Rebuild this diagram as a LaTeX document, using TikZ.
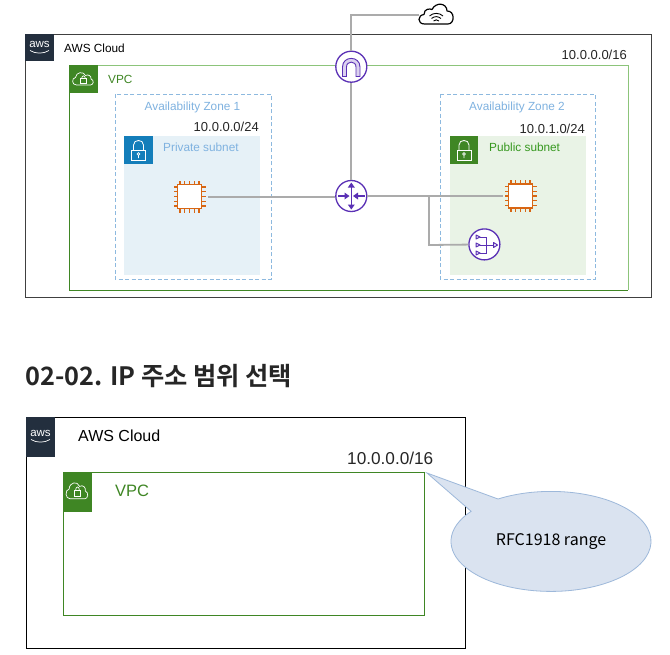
\documentclass[tikz,border=0pt]{standalone}
\usepackage{fontspec}
\setmainfont{Liberation Sans}
\newfontfamily\krfont[BoldFont=Noto Sans CJK KR Bold]{Noto Sans CJK KR}
\definecolor{awsdark}{HTML}{232F3E}
\definecolor{vpcgreen}{HTML}{3F8624}
\definecolor{vpclight}{HTML}{8CC47A}
\definecolor{azblue}{HTML}{8DB9DF}
\definecolor{aztext}{HTML}{7FB2E0}
\definecolor{privhead}{HTML}{147EBA}
\definecolor{privfill}{HTML}{E6F1F7}
\definecolor{pubfill}{HTML}{E9F3E6}
\definecolor{netpurple}{HTML}{5A30B5}
\definecolor{chiporange}{HTML}{D86613}
\definecolor{wiregray}{HTML}{ABABAB}
\definecolor{calloutfill}{HTML}{DAE3F0}
\definecolor{calloutline}{HTML}{9DB8DA}
\tikzset{
  x=1pt,y=-1pt,
  txt/.style={inner sep=0pt,font=\fontsize{11.8}{13}\selectfont,text=#1},
  txt/.default=black,
  cidr/.style={inner sep=0pt,font=\fontsize{13}{15}\selectfont,text=black!85,anchor=east},
  wire/.style={draw=wiregray,line width=1.8pt},
  netnode/.style={circle,draw=netpurple,line width=1.3pt,fill=white,minimum size=31pt,inner sep=0pt},
  azbox/.style={draw=azblue,line width=1pt,dash pattern=on 4pt off 2.5pt},
  lockcloud/.pic={
    \draw[white,line width=.7pt,line join=round] (-7,6) .. controls (-12,6) and (-12,-1) .. (-8,-1.5) .. controls (-7.5,-7) and (0,-8) .. (2,-3.5) .. controls (5,-5) and (8,-3) .. (7.5,0) .. controls (11,1) and (10,6) .. (7,6) -- cycle;
    \draw[white,line width=.7pt] (-3,-.5) rectangle (3,4);
    \draw[white,line width=.7pt] (-1.8,-.5) .. controls (-1.8,-4) and (1.8,-4) .. (1.8,-.5);
  },
  padlock/.pic={
    \draw[white,line width=.8pt] (-7,0) rectangle (7,10);
    \draw[white,line width=.8pt] (-5,0) -- (-5,-5) .. controls (-5,-11) and (5,-11) .. (5,-5) -- (5,0);
    \draw[white,line width=.7pt] (0,4) circle (1.4pt) (0,5.5) -- (0,8);
  },
  chip/.pic={
    \draw[chiporange,line width=1.5pt,fill=white] (-12,-12) rectangle (12,12);
    \foreach \t in {-9.5,-4.8,0,4.8,9.5}{
      \draw[chiporange,line width=1.1pt] (\t,-12) -- (\t,-16) (\t,12) -- (\t,16) (-12,\t) -- (-16,\t) (12,\t) -- (16,\t);
    }
  },
  awslogo/.pic={
    \node[inner sep=0pt,text=white,font=\fontsize{11.5}{11}\selectfont] (-aws) at (0,-2.5) {aws};
    \draw[white,line width=.7pt] (-9.5,3.5) .. controls (-4,7) and (4,7) .. (9.5,3.5);
  }
}
\begin{document}
\begin{tikzpicture}
\useasboundingbox (0,0) rectangle (670,654);
\fill[white] (0,0) rectangle (670,654);

% ---------- upper diagram
\draw[draw=black!75,line width=.9pt] (25,34) rectangle (651,297);
\fill[awsdark] (25,34) rectangle (54,61);
\pic at (39.5,47) {awslogo};
\node[txt,anchor=west] (cloudA) at (64,48) {AWS Cloud};
\node[cidr] (cidrA) at (627,55) {10.0.0.0/16};

\draw[draw=vpclight,line width=1pt] (69,65) -- (628,65) -- (628,290);
\draw[draw=vpcgreen,line width=1pt] (69,65) -- (69,290) -- (628,290);
\fill[vpcgreen] (69,65) rectangle (98,93);
\pic at (83.5,79) {lockcloud};
\node[txt=vpcgreen,anchor=west] (vpcB) at (108,79) {VPC};

% zones
\fill[privfill] (124,136) rectangle (260,275);
\fill[pubfill] (450,136) rectangle (586,275);
\draw[azbox] (115,94) rectangle (271,279);
\draw[azbox] (440,94) rectangle (595,279);
\node[txt=aztext] (azone) at (192.5,107.5) {Availability Zone 1};
\node[txt=aztext] (aztwo) at (517,107.5) {Availability Zone 2};
\node[cidr] (cidrB) at (259,127) {10.0.0.0/24};
\node[cidr] (cidrC) at (585,129) {10.0.1.0/24};

\fill[privhead] (124,136) rectangle (153,164);
\pic at (138.5,150) {padlock};
\node[txt=aztext,anchor=west] (privlabel) at (163,147) {Private subnet};
\fill[vpcgreen] (450,136) rectangle (478,164);
\pic at (464,150) {padlock};
\node[txt=vpcgreen!85!green,anchor=west] (publabel) at (489,147) {Public subnet};

% network nodes
\node[netnode] (igw) at (351.3,66.7) {};
\node[netnode] (router) at (351.3,196) {};
\node[netnode] (nat) at (484.4,244.4) {};
\coordinate (ec2L) at (208,197);
\coordinate (ec2R) at (503,196);
\coordinate (netin) at (419,15);
\coordinate (branch) at (429,196);

\draw[wire] (igw) -- (351.3,15) -- (netin);
\draw[wire] (igw) -- (router);
\draw[wire] (ec2L) -- (ec2L -| router.west);
\draw[wire] (router) -- (ec2R);
\draw[wire] (branch) -- (429,245) -- (nat);

% gateway glyph
\draw[netpurple,line width=.9pt,fill=netpurple!22] (342.5,76.5) -- (342.5,67) .. controls (342.5,55.5) and (360,55.5) .. (360,67) -- (360,76.5) -- (356,76.5) -- (356,67) .. controls (356,60.5) and (346.5,60.5) .. (346.5,67) -- (346.5,76.5) -- cycle;

% router glyph
\draw[netpurple,line width=1.2pt] (351.3,185) -- (351.3,207);
\draw[netpurple,line width=1.2pt] (338,196) -- (348,196) (355,196) -- (365,196);
\fill[netpurple] (351.3,182.5) -- (354.8,187.5) -- (347.8,187.5) -- cycle
                 (351.3,209.5) -- (354.8,204.5) -- (347.8,204.5) -- cycle
                 (349.5,196) -- (344.5,192.5) -- (344.5,199.5) -- cycle
                 (353,196) -- (358,192.5) -- (358,199.5) -- cycle;

% NAT glyph
\draw[netpurple,line width=1pt] (480,237) -- (486,237) -- (486,253) -- (480,253) (480,245) -- (494,245);
\draw[netpurple,line width=1pt,line join=round] (480,237) -- (476,235) -- (476,239) -- cycle
                                 (480,245) -- (476,243) -- (476,247) -- cycle
                                 (480,253) -- (476,251) -- (476,255) -- cycle
                                 (497.5,245) -- (493.5,242.5) -- (493.5,247.5) -- cycle;

\pic at (189.5,196.5) {chip};
\pic at (520.5,196) {chip};

% internet cloud
\draw[black,line width=1.2pt,fill=white,line join=round] (424.5,24) .. controls (417,24) and (417.5,15) .. (424,14.5) .. controls (424,8.5) and (430,8.5) .. (432,9.5) .. controls (436,1.5) and (447,3) .. (447,11) .. controls (455,10.5) and (455,24) .. (448,24) -- cycle;
\draw[black,line width=.9pt] (429.5,16) .. controls (433,12.5) and (439.5,12.5) .. (443,16)
  (431.5,18.5) .. controls (434.5,16) and (438,16) .. (441,18.5)
  (433.5,21) .. controls (435.5,19.5) and (437,19.5) .. (439,21);

% ---------- heading
\node[inner sep=0pt,anchor=west,font=\krfont\bfseries\fontsize{25.3}{28}\selectfont,text=black!85] (title) at (25,376) {02-02. IP 주소 범위 선택};

% ---------- lower diagram
\draw[draw=black,line width=1pt] (26,417) rectangle (465,648);
\fill[awsdark] (26,417) rectangle (55,457);
\pic at (40.5,436) {awslogo};
\node[txt,anchor=west,font=\fontsize{16}{18}\selectfont] (cloudB) at (78,436) {AWS Cloud};
\node[cidr,font=\fontsize{17.2}{19}\selectfont] (cidrD) at (433.5,458) {10.0.0.0/16};
\draw[draw=vpcgreen,line width=1pt] (63,472) rectangle (424,615);
\fill[vpcgreen] (63,472) rectangle (92,512);
\pic[xscale=1.05,yscale=1.3] at (77.5,491) {lockcloud};
\node[txt=vpcgreen,anchor=west,font=\fontsize{16.5}{18}\selectfont] (vpcC) at (115,491) {VPC};

% callout
\coordinate (tip) at (427,473);
\draw[draw=calloutline,fill=calloutfill,line width=.8pt] (tip) -- (498,499) arc[start angle=122,end angle=-217,x radius=100pt,y radius=50pt] -- cycle;
\node[inner sep=0pt,font=\krfont\fontsize{16}{18}\selectfont,text=black] (rfc) at (551,542) {RFC1918 range};
\end{tikzpicture}
\end{document}
